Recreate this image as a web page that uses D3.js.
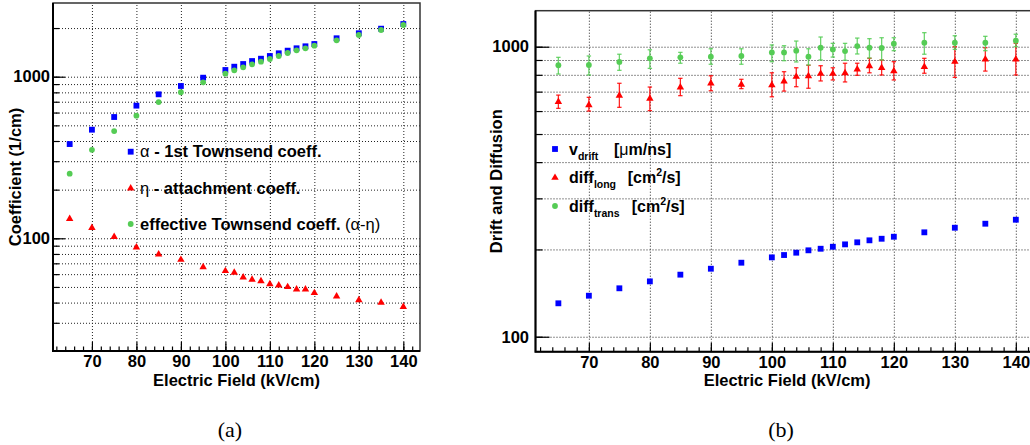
<!DOCTYPE html>
<html>
<head>
<meta charset="utf-8">
<script src="https://cdn.jsdelivr.net/npm/d3@7"></script>
<style>
  body { margin: 0; background: #fff; }
  svg text { font-family: "Liberation Sans", Arial, sans-serif; font-weight: bold; fill: #000; }
  svg text .sym { font-weight: normal; }
  svg text.caption { font-family: "Liberation Serif", "Times New Roman", serif; font-weight: normal; }
</style>
</head>
<body>
<script>
// electric field (kV/cm), shared by both panels
const field = [65, 70, 75, 80, 85, 90, 95, 100, 102, 104, 106, 108, 110, 112, 114, 116, 118, 120, 125, 130, 135, 140];

// panel (a): coefficients (1/cm)
const alpha = [383, 470, 563, 662, 778, 876, 986, 1100, 1153, 1198, 1250, 1292, 1343, 1396, 1449, 1499, 1542, 1593, 1729, 1857, 1982, 2118];
const eta = [132, 116, 102, 88, 79.6, 73.7, 66.4, 62.8, 61.3, 57.4, 55.5, 54.4, 52.1, 51.2, 50.0, 48.3, 48.3, 45.9, 43.7, 41.5, 40.0, 37.7];
const effective = [251, 353, 461, 574, 697, 801, 923, 1044, 1095, 1143, 1193, 1239, 1287, 1343, 1402, 1456, 1499, 1556, 1680, 1811, 1945, 2089];

// panel (b): drift velocity and diffusion, with error bar ends
const vDrift = [130.4, 138.5, 146.9, 155.2, 163.7, 171.6, 180, 187.8, 191.3, 194.9, 198.6, 201.1, 204.3, 208.2, 211.6, 215, 217.7, 221.2, 229.1, 237.6, 245.3, 253.2];
const diffLong = [646, 629, 678, 662, 724, 748, 740, 738, 760, 788, 792, 807, 807, 811, 836, 858, 846, 824, 853, 888, 905, 905];
const diffLongHi = [681, 669, 748, 726, 778, 794, 772, 813, 820, 846, 863, 860, 846, 877, 877, 912, 900, 888, 912, 1000, 992, 1027];
const diffLongLo = [613, 600, 618, 602, 678, 705, 717, 672, 703, 728, 719, 762, 768, 756, 797, 813, 799, 768, 810, 784, 824, 799];
const diffTrans = [863, 865, 886, 912, 919, 924, 929, 956, 956, 969, 924, 992, 979, 966, 1005, 992, 990, 1024, 1032, 1032, 1032, 1049];
const diffTransHi = [919, 929, 942, 976, 956, 984, 984, 1014, 1008, 1046, 984, 1080, 1027, 1027, 1071, 1066, 1074, 1074, 1118, 1091, 1086, 1104];
const diffTransLo = [805, 799, 829, 842, 877, 870, 870, 888, 895, 886, 865, 900, 921, 898, 944, 914, 900, 969, 942, 979, 969, 1000];

// axes
const xMajor = [70, 80, 90, 100, 110, 120, 130, 140];
const xMinor = d3.range(62, 144, 2);
const yLabels = [100, 1000];
const xTitle = 'Electric Field (kV/cm)';
const yTitleA = 'Coefficient (1/cm)';
const yTitleB = 'Drift and Diffusion';
const captions = ['(a)', '(b)'];

const blue = '#0000ff';
const red = '#ff0000';
const green = '#55cc55';

const svg = d3.select('body')
  .append('svg')
  .attr('width', 1030)
  .attr('height', 445);

const drawPanel = (x, y, yTickLen, labelPad, yTitle, yTitleX) => {
  const [x0, x1] = x.range();
  const [yb, yt] = y.range();
  const w = x1 - x0;
  const h = yb - yt;
  const [dMin, dMax] = y.domain();
  const yAll = y.ticks().filter(v => v > dMin * 1.04 && v < dMax);
  const yMaj = yAll.filter(v => yLabels.includes(v));
  const g = svg.append('g');

  // dotted grid
  const grid = g.append('g').attr('class', 'grid');
  grid.append('g')
    .attr('transform', `translate(0,${yb})`)
    .call(d3.axisBottom(x).tickValues(xMajor).tickSize(-h).tickFormat(''));
  grid.append('g')
    .attr('transform', `translate(${x0},0)`)
    .call(d3.axisLeft(y).tickValues(yAll).tickSize(-w).tickFormat(''));
  grid.selectAll('.domain').remove();
  grid.selectAll('line')
    .attr('stroke', '#222')
    .attr('stroke-dasharray', '1,2');

  // inside ticks
  const xt = g.append('g').attr('transform', `translate(0,${yb})`);
  xt.append('g')
    .call(d3.axisBottom(x).tickValues(xMinor).tickSize(-4.5).tickFormat(''));
  xt.append('g')
    .call(d3.axisBottom(x).tickValues(xMajor).tickSize(-9).tickFormat(d3.format('d')))
    .selectAll('text')
    .attr('y', 10.5)
    .attr('dy', '0.35em');
  const yt2 = g.append('g').attr('transform', `translate(${x0},0)`);
  yt2.append('g')
    .call(d3.axisLeft(y).tickValues(yAll).tickSize(-yTickLen / 2).tickFormat(''));
  yt2.append('g')
    .call(d3.axisLeft(y).tickValues(yMaj).tickSize(-yTickLen).tickPadding(labelPad).tickFormat(d3.format('d')));
  [xt, yt2].forEach(s => {
    s.selectAll('.domain').remove();
    s.selectAll('line').attr('stroke', '#000').attr('stroke-width', 1.2);
    s.selectAll('text').attr('font-family', null).style('font-size', '16.5px');
  });

  // frame
  g.append('rect')
    .attr('x', x0).attr('y', yt)
    .attr('width', w).attr('height', h)
    .attr('fill', 'none')
    .attr('stroke', '#333')
    .attr('stroke-width', 1.5);
  g.append('path')
    .attr('d', `M${x0},${yt}V${yb}H${x1}`)
    .attr('fill', 'none')
    .attr('stroke', '#000')
    .attr('stroke-width', 2);

  // titles
  g.append('text')
    .attr('x', (x0 + x1) / 2)
    .attr('y', 380)
    .attr('dy', '0.35em')
    .attr('text-anchor', 'middle')
    .style('font-size', '16.5px')
    .text(xTitle);
  g.append('text')
    .attr('transform', `translate(${yTitleX},${(yt + yb) / 2}) rotate(-90)`)
    .attr('dy', '0.35em')
    .attr('text-anchor', 'middle')
    .style('font-size', '16.5px')
    .text(yTitle);

  return g;
};

const square = d3.symbol().type(d3.symbolSquare).size(34);
const triangle = d3.symbol().type(d3.symbolTriangle).size(24);
const radius = 2.9;

const drawMarkers = (g, x, y, values, kind, color) => {
  const sel = g.append('g').selectAll('.m')
    .data(values.map((v, i) => ({ f: field[i], v })))
    .join(kind === 'circle' ? 'circle' : 'path')
    .attr('fill', color);
  if (kind === 'circle') {
    sel.attr('cx', d => x(d.f)).attr('cy', d => y(d.v)).attr('r', radius);
  } else {
    sel.attr('transform', d => `translate(${x(d.f)},${y(d.v)})`)
      .attr('d', kind === 'square' ? square() : triangle());
  }
};

const drawErrors = (g, x, y, lo, hi, color) => {
  const data = lo.map((l, i) => ({ f: field[i], lo: l, hi: hi[i] }));
  const eg = g.append('g')
    .attr('stroke', color)
    .attr('stroke-width', 1.3)
    .attr('stroke-opacity', 0.85);
  eg.selectAll('.bar').data(data).join('line')
    .attr('x1', d => x(d.f)).attr('x2', d => x(d.f))
    .attr('y1', d => y(d.lo)).attr('y2', d => y(d.hi));
  eg.selectAll('.capLo').data(data).join('line')
    .attr('x1', d => x(d.f) - 2.2).attr('x2', d => x(d.f) + 2.2)
    .attr('y1', d => y(d.lo)).attr('y2', d => y(d.lo));
  eg.selectAll('.capHi').data(data).join('line')
    .attr('x1', d => x(d.f) - 2.2).attr('x2', d => x(d.f) + 2.2)
    .attr('y1', d => y(d.hi)).attr('y2', d => y(d.hi));
};

const legendMarker = (g, kind, color, cx, cy) => {
  if (kind === 'circle') {
    g.append('circle').attr('cx', cx).attr('cy', cy).attr('r', radius).attr('fill', color);
  } else {
    g.append('path')
      .attr('transform', `translate(${cx},${cy})`)
      .attr('d', kind === 'square' ? square() : triangle())
      .attr('fill', color);
  }
};

// ---- panel (a)
const xA = d3.scaleLinear().domain([61.25, 143.75]).range([53, 420]);
const yA = d3.scaleLog().domain([20.07, 2858]).range([351, 3]);
const gA = drawPanel(xA, yA, 12, 3, yTitleA, 15);

drawMarkers(gA, xA, yA, eta, 'triangle', red);
drawMarkers(gA, xA, yA, alpha, 'square', blue);
drawMarkers(gA, xA, yA, effective, 'circle', green);

const legA = gA.append('g').style('font-size', '16.5px');
legendMarker(legA, 'square', blue, 130.7, 151.7);
legendMarker(legA, 'triangle', red, 130.7, 188.3);
legendMarker(legA, 'circle', green, 130.7, 224);
const tA1 = legA.append('text').attr('x', 140).attr('y', 151.7).attr('dy', '0.35em');
tA1.append('tspan').attr('class', 'sym').text('\u03b1');
tA1.append('tspan').text(' - 1st Townsend coeff.');
const tA2 = legA.append('text').attr('x', 140).attr('y', 188.3).attr('dy', '0.35em');
tA2.append('tspan').attr('class', 'sym').text('\u03b7');
tA2.append('tspan').text(' - attachment coeff.');
const tA3 = legA.append('text').attr('x', 140).attr('y', 224).attr('dy', '0.35em');
tA3.append('tspan').text('effective Townsend coeff. ');
tA3.append('tspan').attr('class', 'sym').text('(\u03b1-\u03b7)');

// ---- panel (b)
const xB = d3.scaleLinear().domain([61.25, 143.75]).range([535.5, 1038.7]);
const yB = d3.scaleLog().domain([88.8, 1331]).range([351.7, 10.7]);
const gB = drawPanel(xB, yB, 14, 6.5, yTitleB, 496);

drawErrors(gB, xB, yB, diffLongLo, diffLongHi, red);
drawErrors(gB, xB, yB, diffTransLo, diffTransHi, green);
drawMarkers(gB, xB, yB, vDrift, 'square', blue);
drawMarkers(gB, xB, yB, diffLong, 'triangle', red);
drawMarkers(gB, xB, yB, diffTrans, 'circle', green);

const legB = gB.append('g').style('font-size', '16px');
legendMarker(legB, 'square', blue, 555, 149);
legendMarker(legB, 'triangle', red, 555, 177.7);
legendMarker(legB, 'circle', green, 555, 206);

const legRow = (cy, main, sub, unitX, unit) => {
  const t = legB.append('text').attr('x', 569).attr('y', cy + 5.5);
  t.append('tspan').text(main);
  t.append('tspan').attr('dy', 5).style('font-size', '10.5px').text(sub);
  const u = t.append('tspan').attr('x', unitX).attr('dy', -5);
  unit(u, t);
};
legRow(149, 'v', 'drift', 614, (u, t) => {
  u.text('[');
  t.append('tspan').attr('class', 'sym').text('\u03bc');
  t.append('tspan').text('m/ns]');
});
legRow(177.7, 'diff', 'long', 627.7, (u, t) => {
  u.text('[cm');
  t.append('tspan').attr('dy', -7).style('font-size', '10.5px').text('2');
  t.append('tspan').attr('dy', 7).text('/s]');
});
legRow(206, 'diff', 'trans', 631.7, (u, t) => {
  u.text('[cm');
  t.append('tspan').attr('dy', -7).style('font-size', '10.5px').text('2');
  t.append('tspan').attr('dy', 7).text('/s]');
});

// captions
svg.selectAll('.caption')
  .data(captions)
  .join('text')
  .attr('class', 'caption')
  .attr('x', (d, i) => i === 0 ? 230 : 781)
  .attr('y', 429)
  .attr('dy', '0.35em')
  .attr('text-anchor', 'middle')
  .style('font-size', '22px')
  .text(d => d);
</script>
</body>
</html>
